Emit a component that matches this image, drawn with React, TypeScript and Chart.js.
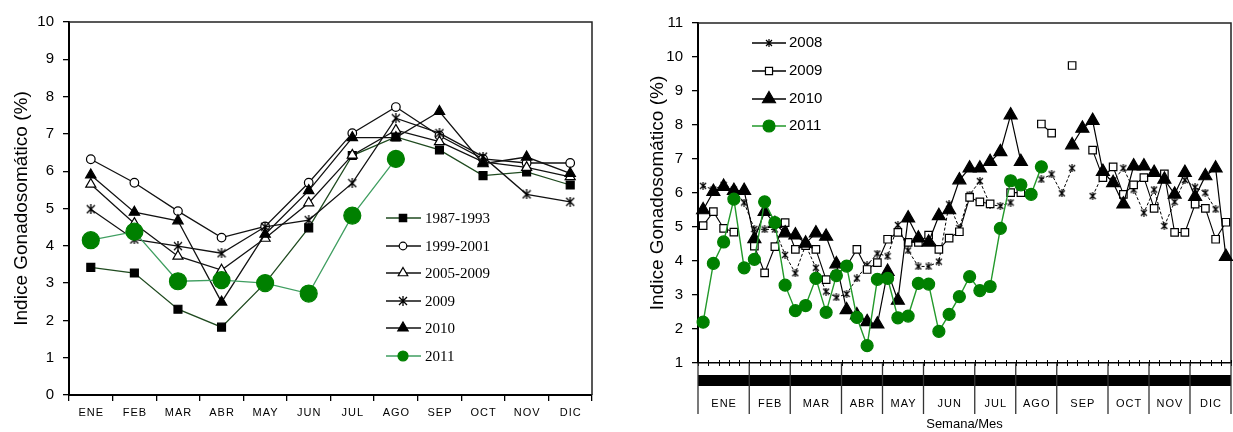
import React, { useEffect, useRef } from "react";
import { Chart, registerables } from "chart.js";

Chart.register(...registerables);

const SANS = "'Liberation Sans', Arial, Helvetica, sans-serif";
const SERIF = "'Liberation Serif', 'Times New Roman', serif";

// ---------- Left panel data (monthly) ----------
const MONTHS = ["ENE", "FEB", "MAR", "ABR", "MAY", "JUN", "JUL", "AGO", "SEP", "OCT", "NOV", "DIC"];
const LEFT_LABELS = ["1987-1993", "1999-2001", "2005-2009", "2009", "2010", "2011"];
const L_1987_1993 = [3.42, 3.27, 2.3, 1.82, 3.0, 4.48, 6.42, 6.92, 6.57, 5.88, 5.98, 5.63];
const L_1999_2001 = [6.32, 5.69, 4.93, 4.22, 4.52, 5.69, 7.02, 7.72, 6.95, 6.33, 6.22, 6.22];
const L_2005_2009 = [5.65, 4.6, 3.72, 3.35, 4.2, 5.15, 6.43, 7.1, 6.79, 6.25, 6.1, 5.85];
const L_2009 = [4.98, 4.17, 3.99, 3.8, 4.51, 4.69, 5.68, 7.42, 7.02, 6.39, 5.38, 5.18];
const L_2010 = [5.9, 4.9, 4.67, 2.49, 4.31, 5.48, 6.9, 6.9, 7.6, 6.2, 6.38, 5.94];
const L_2011 = [4.15, 4.38, 3.05, 3.08, 3.0, 2.72, 4.81, 6.33, null, null, null, null];
const LEFT_Y_MIN = 0;
const LEFT_Y_MAX = 10;

// ---------- Right panel data (weekly) ----------
const WEEKS = [
  "1", "2", "3", "4", "5", "6", "7", "8", "9", "10", "11", "12", "13", "14", "15", "16", "17", "18",
  "19", "20", "21", "22", "23", "24", "25", "26", "27", "28", "29", "30", "31", "32", "33", "34", "35",
  "36", "37", "38", "39", "40", "41", "42", "43", "44", "45", "46", "47", "48", "49", "50", "51", "52",
];
const WEEKS_PER_MONTH = [5, 4, 5, 4, 4, 5, 4, 4, 5, 4, 4, 4];
const RIGHT_LABELS = ["2008", "2009", "2010", "2011"];
const R_2008 = [
  6.21, 6.1, 6.24, 6.1, 5.72, 4.94, 4.93, 4.93, 4.18, 3.64, 4.47, 3.8, 3.1, 2.93, 3.03, 3.49, 3.88, 4.22,
  4.14, 5.06, 4.31, 3.84, 3.84, 3.98, 5.67, 4.97, 5.95, 6.35, 5.65, 5.62, 5.72, null, null, 6.4, 6.55,
  5.99, 6.73, null, 5.91, 6.55, 6.35, 6.73, 6.1, 5.42, 6.1, 5.03, 5.74, 6.38, 6.17, 6.01, 5.52, null,
];
const R_2009 = [
  5.04, 5.45, 4.96, 4.85, null, 4.44, 3.65, 4.42, 5.13, 4.34, 4.45, 4.34, 3.45, 3.6, 3.85, 4.34, 3.75,
  3.95, 4.64, 4.84, 4.55, 4.55, 4.76, 4.34, 4.67, 4.86, 5.87, 5.74, 5.68, null, 6.01, 6.01, null, 8.03,
  7.76, null, 9.75, null, 7.26, 6.45, 6.77, 5.96, 6.24, 6.45, 5.55, 6.56, 4.84, 4.84, 5.67, 5.55, 4.64,
  5.14,
];
const R_2010 = [
  5.5, 6.04, 6.19, 6.07, 6.07, 4.65, 5.45, 5.1, 4.82, 4.76, 4.52, 4.82, 4.72, 3.91, 2.56, 2.41, 2.21,
  2.14, 3.69, 2.84, 5.26, 4.67, 4.55, 5.33, 5.5, 6.38, 6.73, 6.73, 6.92, 7.21, 8.29, 6.92, null, null,
  null, null, 7.41, 7.9, 8.13, 6.63, 6.3, 5.67, 6.79, 6.79, 6.6, 6.4, 5.96, 6.6, 5.89, 6.5, 6.73, 4.13,
];
const R_2011 = [
  2.2, 3.93, 4.56, 5.82, 3.8, 4.05, 5.74, 5.13, 3.29, 2.54, 2.69, 3.49, 2.49, 3.57, 3.85, 2.34, 1.51,
  3.46, 3.49, 2.33, 2.38, 3.34, 3.32, 1.93, 2.43, 2.95, 3.54, 3.13, 3.25, 4.96, 6.36, 6.24, 5.96, 6.77,
  null, null, null, null, null, null, null, null, null, null, null, null, null, null, null, null, null, null,
];
const RIGHT_Y_MIN = 1;
const RIGHT_Y_MAX = 11;

const Y_TITLE = "Indice Gonadosomático (%)";
const X_TITLE = "Semana/Mes";

function makeAsterisk(size: number, lw: number): HTMLCanvasElement {
  const c = document.createElement("canvas");
  c.width = size;
  c.height = size;
  const g = c.getContext("2d")!;
  g.strokeStyle = "#000";
  g.lineWidth = lw;
  const m = 1;
  g.beginPath();
  g.moveTo(m, m);
  g.lineTo(size - m, size - m);
  g.moveTo(size - m, m);
  g.lineTo(m, size - m);
  g.moveTo(size / 2, 0);
  g.lineTo(size / 2, size);
  g.stroke();
  return c;
}

function drawMarker(
  ctx: CanvasRenderingContext2D,
  style: any,
  x: number,
  y: number,
  r: number,
  fill: string,
  stroke: string,
  lw: number
) {
  ctx.save();
  if (typeof style !== "string") {
    ctx.drawImage(style, x - style.width / 2, y - style.height / 2);
    ctx.restore();
    return;
  }
  ctx.beginPath();
  if (style === "circle") {
    ctx.arc(x, y, r, 0, Math.PI * 2);
  } else if (style === "rect") {
    const s = Math.SQRT1_2 * r;
    ctx.rect(x - s, y - s, 2 * s, 2 * s);
  } else if (style === "triangle") {
    const a = (2 * Math.PI) / 3;
    ctx.moveTo(x, y - r);
    ctx.lineTo(x + Math.sin(a) * r, y - Math.cos(a) * r);
    ctx.lineTo(x + Math.sin(2 * a) * r, y - Math.cos(2 * a) * r);
    ctx.closePath();
  }
  ctx.fillStyle = fill;
  ctx.fill();
  if (lw > 0) {
    ctx.strokeStyle = stroke;
    ctx.lineWidth = lw;
    ctx.stroke();
  }
  ctx.restore();
}

function spacedText(ctx: CanvasRenderingContext2D, text: string, x: number, y: number, spacing: number) {
  ctx.save();
  (ctx as any).letterSpacing = spacing + "px";
  ctx.textAlign = "left";
  const w = ctx.measureText(text).width;
  ctx.fillText(text, x - (w - spacing) / 2, y);
  ctx.restore();
}

function buildLeft(canvas: HTMLCanvasElement) {
  const star = makeAsterisk(10, 1.3);
  const specs = [
    { label: LEFT_LABELS[0], data: L_1987_1993, line: "#1f4a1f", style: "rect" as any, r: 5.6, lr: 5.2, fill: "#000", stroke: "#000" },
    { label: LEFT_LABELS[1], data: L_1999_2001, line: "#111", style: "circle" as any, r: 4.3, lr: 3.8, fill: "#fff", stroke: "#000" },
    { label: LEFT_LABELS[2], data: L_2005_2009, line: "#111", style: "triangle" as any, r: 5.8, lr: 5.5, fill: "#fff", stroke: "#000" },
    { label: LEFT_LABELS[3], data: L_2009, line: "#111", style: star as any, r: 5, lr: 5, fill: "#000", stroke: "#000" },
    { label: LEFT_LABELS[4], data: L_2010, line: "#111", style: "triangle" as any, r: 6, lr: 6, fill: "#000", stroke: "#000" },
    { label: LEFT_LABELS[5], data: L_2011, line: "#3f9e60", style: "circle" as any, r: 8.5, lr: 5, fill: "#008000", stroke: "#008000" },
  ];
  const legendY = [218, 246, 273, 301, 328, 356];
  const datasets = specs.map((s, i) => ({
    label: s.label,
    data: s.data,
    borderColor: s.line,
    borderWidth: 1.3,
    pointStyle: s.style,
    pointRadius: s.r,
    pointHoverRadius: s.r,
    pointBackgroundColor: s.fill,
    pointBorderColor: s.stroke,
    pointBorderWidth: 1.2,
    fill: false,
    tension: 0,
    spanGaps: false,
    clip: false as any,
    order: specs.length - 1 - i,
  }));
  const decor = {
    id: "leftDecor",
    beforeDatasetsDraw(chart: any) {
      const { ctx, chartArea: a } = chart;
      ctx.save();
      ctx.strokeStyle = "#222";
      ctx.lineWidth = 1.5;
      ctx.beginPath();
      ctx.moveTo(a.left, a.top);
      ctx.lineTo(a.right, a.top);
      ctx.lineTo(a.right, a.bottom);
      ctx.stroke();
      ctx.restore();
    },
    afterDraw(chart: any) {
      const { ctx } = chart;
      const xs = chart.scales.x;
      ctx.save();
      ctx.fillStyle = "#000";
      ctx.font = `11px ${SANS}`;
      ctx.textBaseline = "middle";
      MONTHS.forEach((m, i) => spacedText(ctx, m, xs.getPixelForValue(i), 413, 1));
      ctx.restore();
      specs.forEach((s, i) => {
        const y = legendY[i];
        ctx.save();
        ctx.strokeStyle = s.line;
        ctx.lineWidth = 1.6;
        ctx.beginPath();
        ctx.moveTo(386, y);
        ctx.lineTo(421, y);
        ctx.stroke();
        ctx.restore();
        drawMarker(ctx, s.style, 403, y, s.lr, s.fill, s.stroke, 1.2);
        ctx.save();
        ctx.fillStyle = "#000";
        ctx.font = `15px ${SERIF}`;
        ctx.textAlign = "left";
        ctx.textBaseline = "middle";
        ctx.fillText(s.label, 425, y + 1);
        ctx.restore();
      });
    },
  };
  return new Chart(canvas, {
    type: "line",
    data: { labels: MONTHS, datasets: datasets as any },
    options: {
      responsive: false,
      animation: false,
      devicePixelRatio: 1,
      events: [],
      layout: { autoPadding: false, padding: { top: 22, right: 23, bottom: 0, left: 0 } },
      plugins: { legend: { display: false }, tooltip: { enabled: false } },
      scales: {
        x: {
          type: "category",
          offset: true,
          grid: { offset: true, drawOnChartArea: false, drawTicks: true, tickLength: 6, color: "#000", lineWidth: 1.3 },
          border: { display: true, color: "#000", width: 2 },
          ticks: { display: false },
          afterFit: (s: any) => {
            s.height = 37;
          },
        },
        y: {
          min: LEFT_Y_MIN,
          max: LEFT_Y_MAX,
          ticks: { stepSize: 1, color: "#000", font: { family: SANS, size: 15 }, padding: 9 },
          grid: { drawOnChartArea: false, tickLength: 6, color: "#000", lineWidth: 1.3 },
          border: { display: true, color: "#000", width: 2 },
          title: {
            display: true,
            text: Y_TITLE,
            color: "#000",
            font: { family: SANS, size: 19 },
            padding: { top: 10.6, bottom: 0 },
          },
          afterFit: (s: any) => {
            s.width = 69;
          },
        },
      },
    } as any,
    plugins: [decor],
  });
}

function buildRight(canvas: HTMLCanvasElement) {
  const star = makeAsterisk(8, 1.2);
  const specs = [
    { label: RIGHT_LABELS[0], data: R_2008, line: "#000", dash: [3, 2], style: star as any, r: 4, lr: 4, fill: "#000", stroke: "#000", lw: 1 },
    { label: RIGHT_LABELS[1], data: R_2009, line: "#000", dash: [], style: "rect" as any, r: 5.3, lr: 5, fill: "#fff", stroke: "#000", lw: 1.1 },
    { label: RIGHT_LABELS[2], data: R_2010, line: "#000", dash: [], style: "triangle" as any, r: 7.5, lr: 7.5, fill: "#000", stroke: "#000", lw: 1.2 },
    { label: RIGHT_LABELS[3], data: R_2011, line: "#22992a", dash: [], style: "circle" as any, r: 6, lr: 6, fill: "#008000", stroke: "#008000", lw: 1.4 },
  ];
  const legendY = [43, 71, 99, 126];
  const datasets = specs.map((s, i) => ({
    label: s.label,
    data: s.data,
    borderColor: s.line,
    borderWidth: s.lw,
    borderDash: s.dash,
    pointStyle: s.style,
    pointRadius: s.r,
    pointHoverRadius: s.r,
    pointBackgroundColor: s.fill,
    pointBorderColor: s.stroke,
    pointBorderWidth: 1.2,
    fill: false,
    tension: 0,
    spanGaps: false,
    clip: false as any,
    order: specs.length - 1 - i,
  }));
  const decor = {
    id: "rightDecor",
    beforeDatasetsDraw(chart: any) {
      const { ctx, chartArea: a } = chart;
      const xs = chart.scales.x;
      ctx.save();
      ctx.strokeStyle = "#222";
      ctx.lineWidth = 1.5;
      ctx.beginPath();
      ctx.moveTo(a.left, a.top);
      ctx.lineTo(a.right, a.top);
      ctx.lineTo(a.right, a.bottom);
      ctx.stroke();
      // weekly ticks crossing the axis
      const step = xs.getPixelForValue(1) - xs.getPixelForValue(0);
      const x0 = xs.getPixelForValue(0) - step / 2;
      ctx.strokeStyle = "#000";
      ctx.lineWidth = 1;
      ctx.beginPath();
      for (let k = 0; k <= WEEKS.length; k++) {
        const x = Math.round(x0 + k * step) + 0.5;
        ctx.moveTo(x, a.bottom - 3);
        ctx.lineTo(x, a.bottom + 3);
      }
      ctx.stroke();
      ctx.restore();
    },
    afterDraw(chart: any) {
      const { ctx, chartArea: a } = chart;
      const xs = chart.scales.x;
      const step = xs.getPixelForValue(1) - xs.getPixelForValue(0);
      const x0 = xs.getPixelForValue(0) - step / 2;
      ctx.save();
      // dense week-label band
      ctx.fillStyle = "#000";
      ctx.fillRect(a.left, a.bottom + 12, a.right - a.left, 11);
      // month separators + labels
      ctx.strokeStyle = "#333";
      ctx.lineWidth = 1.3;
      let cum = 0;
      ctx.beginPath();
      ctx.moveTo(x0, a.bottom);
      ctx.lineTo(x0, a.bottom + 51);
      WEEKS_PER_MONTH.forEach((n) => {
        cum += n;
        const x = x0 + cum * step;
        ctx.moveTo(x, a.bottom);
        ctx.lineTo(x, a.bottom + 51);
      });
      ctx.stroke();
      ctx.font = `11px ${SANS}`;
      ctx.textBaseline = "middle";
      cum = 0;
      WEEKS_PER_MONTH.forEach((n, i) => {
        const xa = x0 + cum * step;
        cum += n;
        const xb = x0 + cum * step;
        spacedText(ctx, MONTHS[i], (xa + xb) / 2, a.bottom + 41, 1);
      });
      ctx.restore();
      // legend
      specs.forEach((s, i) => {
        const y = legendY[i];
        ctx.save();
        ctx.strokeStyle = s.line;
        ctx.lineWidth = 1.3;
        ctx.beginPath();
        ctx.moveTo(132, y);
        ctx.lineTo(166, y);
        ctx.stroke();
        ctx.restore();
        drawMarker(ctx, s.style, 149, y, s.lr, s.fill, s.stroke, 1.2);
        ctx.save();
        ctx.fillStyle = "#000";
        ctx.font = `15px ${SANS}`;
        ctx.textAlign = "left";
        ctx.textBaseline = "middle";
        ctx.fillText(s.label, 169, y);
        ctx.restore();
      });
    },
  };
  return new Chart(canvas, {
    type: "line",
    data: { labels: WEEKS, datasets: datasets as any },
    options: {
      responsive: false,
      animation: false,
      devicePixelRatio: 1,
      events: [],
      layout: { autoPadding: false, padding: { top: 23, right: 2, bottom: 0, left: 0 } },
      plugins: { legend: { display: false }, tooltip: { enabled: false } },
      scales: {
        x: {
          type: "category",
          offset: true,
          grid: { display: false },
          border: { display: true, color: "#000", width: 1.5 },
          ticks: { display: false },
          title: {
            display: true,
            text: X_TITLE,
            color: "#000",
            font: { family: SANS, size: 13 },
            padding: { top: 0, bottom: 0 },
          },
          afterFit: (s: any) => {
            s.height = 69;
          },
        },
        y: {
          min: RIGHT_Y_MIN,
          max: RIGHT_Y_MAX,
          ticks: { stepSize: 1, color: "#000", font: { family: SANS, size: 15 }, padding: 9 },
          grid: { drawOnChartArea: false, tickLength: 6, color: "#000", lineWidth: 1.3 },
          border: { display: true, color: "#000", width: 2 },
          title: {
            display: true,
            text: Y_TITLE,
            color: "#000",
            font: { family: SANS, size: 19 },
            padding: { top: 26.6, bottom: 0 },
          },
          afterFit: (s: any) => {
            s.width = 78;
          },
        },
      },
    } as any,
    plugins: [decor],
  });
}

export default function App() {
  const leftRef = useRef<HTMLCanvasElement | null>(null);
  const rightRef = useRef<HTMLCanvasElement | null>(null);
  useEffect(() => {
    const c1 = buildLeft(leftRef.current!);
    const c2 = buildRight(rightRef.current!);
    return () => {
      c1.destroy();
      c2.destroy();
    };
  }, []);
  return (
    <div style={{ position: "absolute", left: 0, top: 0, width: 1233, height: 432, background: "#fff", overflow: "hidden" }}>
      <canvas ref={leftRef} width={615} height={432} style={{ position: "absolute", left: 0, top: 0 }} />
      <canvas ref={rightRef} width={613} height={432} style={{ position: "absolute", left: 620, top: 0 }} />
    </div>
  );
}
